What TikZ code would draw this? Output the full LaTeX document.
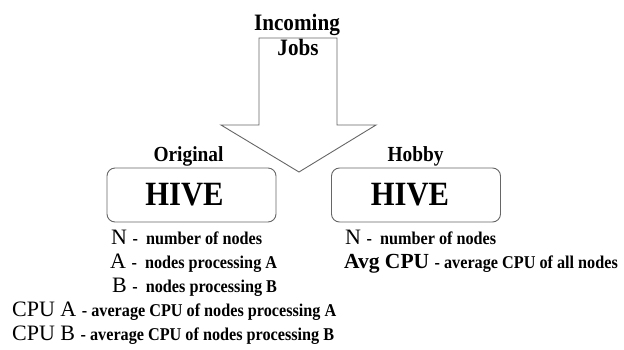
\documentclass[tikz,border=0pt]{standalone}
\usepackage{fontspec}
\setmainfont{Liberation Serif}
\newfontfamily\narrowfont[FakeStretch=0.9]{Liberation Serif}
\usetikzlibrary{positioning}

\tikzset{
	hivebox/.style = {draw=black!60, line width=0.9pt, rounded corners=8pt,
		minimum width=169pt, minimum height=54pt, inner sep=0pt,
		font=\narrowfont\bfseries\fontsize{34}{34}\selectfont},
	caption/.style = {anchor=base, inner sep=0pt, font=\narrowfont\bfseries\fontsize{21.5}{21.5}\selectfont},
	jobtext/.style = {caption, font=\narrowfont\bfseries\fontsize{23.5}{23.5}\selectfont},
	legend/.style = {anchor=base west, inner sep=0pt, font=\fontsize{22}{22}\selectfont},
}
\newcommand{\descr}[1]{{\narrowfont\bfseries\fontsize{18}{18}\selectfont #1}}

\begin{document}
\begin{tikzpicture}[x=1pt, y=-1pt]
	\useasboundingbox (0,0) rectangle (624,349);

	% big arrow for the incoming jobs
	\draw[black!60, line width=0.9pt, fill=white]
		(259,38) -- (337,38) -- (337,125) -- (376,125) -- (299,172)
		-- (221,125) -- (259,125) -- cycle;
	\node (inc)  at (297,30.5)	[jobtext]	{Incoming};
	\node (jobs) at (298,55.5)	[jobtext]	{Jobs};

	% the two hives
	\node (orig)  at (191.5,195)	[hivebox]	{HIVE\hspace*{14pt}};
	\node (hobby) at (416,195)		[hivebox]	{HIVE\hspace*{12pt}};
	\node (origL)  at (188.5,161)	[caption]	{Original};
	\node (hobbyL) at (415.5,161)	[caption]	{Hobby};

	% variables of the original hive
	\node (oN)   at (111,244)	[legend]	{N \descr{-\ \ number of nodes}};
	\node (oA)   at (110,268)	[legend]	{A \descr{-\ \ nodes processing A}};
	\node (oB)   at (112,292)	[legend]	{B \descr{-\ \ nodes processing B}};
	\node (oCA)  at (12,316)	[legend]	{CPU A \descr{- average CPU of nodes processing A}};
	\node (oCB)  at (12,340)	[legend]	{CPU B \descr{- average CPU of nodes processing B}};

	% variables of the hobby hive
	\node (hN)   at (345,244)	[legend]	{N \descr{-\ \ number of nodes}};
	\node (hAvg) at (344,268)	[legend]	{\textbf{\fontsize{21.5}{21.5}\selectfont Avg CPU} \descr{- average CPU of all nodes}};
\end{tikzpicture}
\end{document}
